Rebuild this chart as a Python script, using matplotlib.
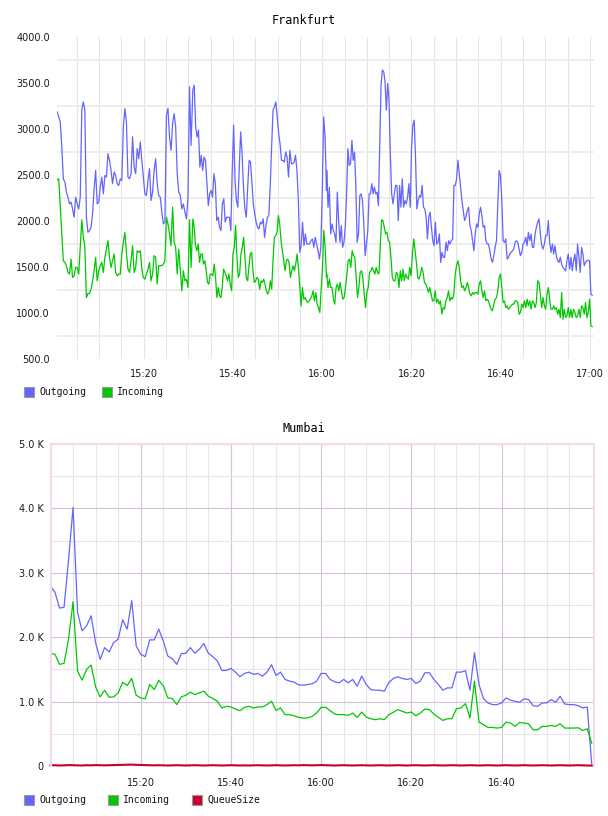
import numpy as np
import matplotlib
matplotlib.use("Agg")
import matplotlib.pyplot as plt
from matplotlib.patches import Rectangle
from matplotlib.ticker import FuncFormatter, MultipleLocator, FixedLocator

# ---------------- Frankfurt (values read off in four chunks of time) ----------------
# minutes after 15:00 where each chunk starts / ends
fra_bounds = [(0.6, 30.6), (31.0, 60.95), (61.0, 91.3), (91.6, 120.5)]

fra_out_1 = [3186, 3132, 3077, 2805, 2459, 2423, 2314, 2259, 2186, 2205, 2132, 2041, 2259, 2186, 2132,
             2259, 3205, 3295, 3205, 2041, 1877, 1896, 1932, 2077, 2350, 2550, 2186, 2205, 2368, 2477,
             2295, 2495, 2477, 2732, 2659, 2550, 2405, 2532, 2495, 2405, 2386, 2459, 2441, 3023, 3223,
             3077, 2477, 2459, 2514, 2914, 2586, 2514, 2786, 2677, 2859, 2659, 2477, 2295, 2277, 2441,
             2568, 2223, 2314, 2550, 2677, 2405, 2277, 2259, 2096, 1968, 1986, 3150, 3223, 2914, 2768,
             3059, 3168, 3023, 2514, 2314, 2277, 2132, 2186, 2096, 2023, 2259, 3459, 2823]
fra_out_2 = [3423, 3477, 3023, 2914, 2986, 2586, 2714, 2550, 2695, 2659, 2405, 2168, 2295, 2332, 2259,
             2514, 2405, 2005, 2041, 1932, 1896, 2186, 2241, 1987, 2041, 2041, 2041, 1896, 2550, 3041,
             2441, 2223, 2150, 2586, 2968, 2732, 2368, 2132, 2041, 2368, 2659, 2641, 2405, 2186, 2077,
             1987, 1932, 1914, 1987, 1968, 2023, 1823, 1950, 2041, 2059, 2368, 2805, 3205, 3241, 3295,
             3132, 2950, 2841, 2659, 2659, 2641, 2750, 2695, 2477, 2768, 2623, 2623, 2641, 2714, 2550,
             2223, 1659, 1732, 1987, 1732, 1859, 1750, 1750, 1750, 1786, 1805, 1714, 1823, 1750, 1677,
             1586, 1714, 2332, 3132, 2914, 2332]
fra_out_3 = [2550, 2150, 2368, 1859, 1968, 1896, 1859, 1768, 2314, 2005, 1768, 1950, 1714, 1768, 1932,
             2295, 2786, 2605, 2623, 2877, 2659, 2750, 2368, 1768, 1859, 2277, 2295, 2223, 1968, 1623,
             1750, 1896, 2295, 2295, 2405, 2295, 2368, 2295, 2314, 2168, 2841, 3477, 3641, 3623, 3514,
             3205, 3495, 3314, 2732, 2295, 2186, 2295, 2386, 2386, 2005, 2386, 2150, 2459, 2150, 2223,
             2186, 2259, 2405, 2150, 2805, 3041, 3095, 2695, 2132, 2223, 2277, 2259, 2386, 2150, 2132,
             2041, 1805, 2041, 2096, 1932, 1786, 1732, 1987, 1750, 1768, 1859, 1550, 1659, 1605, 1605,
             1768, 1677, 1786, 1750, 1786, 1805, 2386, 2386, 2459, 2659, 2514, 2368, 2223]
fra_out_4 = [2114, 2005, 2041, 2114, 2150, 1950, 1896, 1786, 1677, 1859, 1968, 1932, 2077, 2150, 2059,
             1932, 1950, 1786, 1750, 1750, 1677, 1586, 1550, 1623, 1714, 1786, 2186, 2550, 2495, 2223,
             1786, 1768, 1805, 1586, 1605, 1641, 1659, 1677, 1695, 1768, 1786, 1768, 1695, 1623, 1659,
             1750, 1768, 1823, 1732, 1877, 1786, 1859, 1714, 1714, 1859, 1932, 1987, 2023, 1859, 1732,
             1695, 1750, 1841, 1841, 2005, 1768, 1659, 1750, 1641, 1732, 1623, 1568, 1550, 1605, 1532,
             1495, 1477, 1459, 1568, 1641, 1477, 1605, 1459, 1568, 1641, 1459, 1750, 1605, 1441, 1714,
             1641, 1514, 1550, 1568, 1575, 1568, 1205, 1194]

fra_in_1 = [2448, 2459, 2150, 1859, 1568, 1550, 1514, 1441, 1423, 1586, 1386, 1405, 1495, 1495, 1423,
            1714, 2012, 1823, 1714, 1168, 1212, 1212, 1259, 1350, 1459, 1605, 1350, 1459, 1514, 1550,
            1441, 1605, 1695, 1786, 1605, 1495, 1568, 1641, 1441, 1405, 1423, 1423, 1641, 1768, 1877,
            1659, 1477, 1441, 1568, 1732, 1441, 1495, 1677, 1659, 1677, 1477, 1386, 1368, 1423, 1477,
            1550, 1350, 1423, 1623, 1605, 1314, 1514, 1514, 1514, 1532, 1568, 2041, 1968, 1859, 1732,
            2150, 1768, 1714, 1423, 1695, 1477, 1241, 1459, 1350, 1368, 1277, 2012, 1495]
fra_in_2 = [2023, 1932, 1732, 1677, 1750, 1550, 1641, 1641, 1532, 1568, 1459, 1332, 1314, 1423, 1423,
            1405, 1532, 1386, 1168, 1277, 1186, 1168, 1277, 1477, 1441, 1405, 1350, 1423, 1314, 1241,
            1641, 1714, 1950, 1605, 1386, 1423, 1641, 1714, 1823, 1605, 1386, 1350, 1514, 1641, 1659,
            1459, 1332, 1350, 1386, 1368, 1259, 1350, 1332, 1368, 1314, 1241, 1205, 1241, 1350, 1259,
            1568, 1823, 1841, 1877, 2059, 1968, 1786, 1677, 1568, 1459, 1568, 1586, 1550, 1386, 1459,
            1514, 1459, 1532, 1641, 1495, 1277, 1077, 1277, 1150, 1168, 1132, 1114, 1132, 1150, 1186,
            1241, 1132, 1223, 1096, 1059, 1005, 1241, 1495, 1896, 1714, 1386]
fra_in_3 = [1423, 1277, 1368, 1277, 1277, 1150, 1096, 1277, 1314, 1241, 1332, 1241, 1150, 1168, 1277,
            1405, 1568, 1586, 1495, 1677, 1623, 1605, 1386, 1168, 1277, 1441, 1459, 1386, 1205, 1059,
            1223, 1277, 1441, 1459, 1495, 1459, 1423, 1495, 1441, 1423, 1714, 2012, 2005, 1932, 1859,
            1877, 1786, 1768, 1605, 1386, 1350, 1350, 1441, 1423, 1277, 1459, 1350, 1477, 1350, 1423,
            1386, 1368, 1495, 1405, 1641, 1805, 1677, 1550, 1386, 1368, 1423, 1495, 1441, 1332, 1314,
            1277, 1223, 1277, 1205, 1132, 1132, 1241, 1114, 1150, 1096, 1132, 987, 1059, 1041, 1132,
            1168, 1241, 1132, 1168, 1150, 1205, 1423, 1514, 1568, 1495, 1350, 1277]
fra_in_4 = [1295, 1241, 1277, 1332, 1277, 1205, 1186, 1223, 1205, 1223, 1223, 1205, 1314, 1350, 1241,
            1168, 1241, 1132, 1150, 1132, 1077, 1041, 1023, 1096, 1150, 1168, 1241, 1386, 1423, 1277,
            1114, 1132, 1059, 1077, 1041, 1059, 1077, 1096, 1096, 1132, 1132, 1114, 987, 1005, 1096,
            1059, 1132, 1059, 1150, 1077, 1132, 1041, 1132, 1114, 1059, 1114, 1350, 1332, 1205, 1059,
            1168, 1077, 1041, 1205, 1277, 1150, 1041, 1041, 1077, 1041, 1059, 987, 1041, 950, 1223,
            932, 1041, 950, 969, 1059, 950, 1041, 950, 1041, 1005, 950, 969, 1041, 950, 1077,
            1059, 987, 1114, 950, 1005, 1150, 859, 852]

# ---------------- Mumbai (one value per minute, 15:00 .. 17:00) ----------------
mum_out = [2791, 2698, 2453, 2463, 3200, 4015, 2385, 2099, 2177, 2333, 1917, 1656, 1838, 1771, 1917,
           1969, 2271, 2125, 2568, 1865, 1734, 1698, 1958, 1958, 2125, 1943, 1708, 1667, 1578, 1745,
           1750, 1838, 1750, 1812, 1901, 1750, 1698, 1630, 1484, 1484, 1516, 1458, 1385, 1437, 1458,
           1422, 1437, 1396, 1458, 1573, 1406, 1458, 1344, 1318, 1302, 1260,
           1255, 1265, 1276, 1318, 1437, 1437, 1344, 1307, 1292, 1344, 1292, 1344, 1240, 1396, 1266,
           1187, 1177, 1177, 1161, 1292, 1359, 1385, 1359, 1344, 1359, 1281, 1318, 1448, 1448, 1344,
           1266, 1177, 1213, 1213, 1458, 1458, 1479, 1177, 1760, 1266, 1047, 979, 953, 953, 979,
           1057, 1021, 1005, 990, 1042, 1031, 937, 927, 979, 979, 1031, 990, 1083, 963, 953,
           953, 937, 901, 917, 26]
mum_in = [1750, 1734, 1578, 1594, 1969, 2552, 1474, 1333, 1500, 1568, 1229, 1073, 1177, 1068, 1073,
          1135, 1302, 1250, 1359, 1099, 1057, 1042, 1266, 1187, 1328, 1250, 1057, 1047, 953, 1073,
          1099, 1146, 1109, 1135, 1161, 1083, 1047, 1005, 901, 927, 917, 885, 859, 911, 927,
          901, 917, 917, 953, 1005, 864, 901, 797, 797, 781, 755,
          745, 747, 771, 823, 911, 911, 859, 807, 797, 797, 786, 823, 755, 838, 760,
          734, 719, 734, 719, 797, 833, 875, 849, 823, 838, 781, 823, 885, 875, 807,
          755, 708, 734, 734, 891, 901, 969, 745, 1318, 682, 641, 599, 599, 589, 599,
          682, 667, 615, 677, 667, 656, 562, 562, 615, 615, 630, 615, 656, 589, 589,
          589, 594, 552, 578, 354]
mum_queue = [10, 12, 8, 10, 14, 12, 10, 8, 12, 10, 14, 12, 10, 12, 14, 16, 18, 20, 22, 18,
             16, 14, 12, 10, 12, 10, 8, 10, 12, 10, 8, 10, 12, 10, 8, 10, 12, 10, 8, 10,
             12, 10, 8, 10, 8, 10, 12, 10, 8, 10, 12, 10, 8, 10, 12, 10, 14, 12, 10, 12,
             14, 12, 10, 8, 10, 12, 10, 8, 10, 12, 10, 8, 10, 12, 10, 8, 10, 12, 10, 8,
             10, 12, 10, 8, 10, 12, 10, 8, 10, 12, 10, 8, 10, 12, 10, 8, 10, 12, 10, 8,
             10, 12, 10, 8, 10, 12, 10, 8, 10, 12, 10, 8, 10, 12, 10, 8, 10, 12, 10, 8, 6]

OUT_C, IN_C, Q_C = '#6464ff', '#00c800', '#c80032'
W, H = 608, 816
fig = plt.figure(figsize=(W / 100, H / 100), dpi=100)


def px_axes(left, top, right, bottom):
    return fig.add_axes([left / W, 1 - bottom / H, (right - left) / W, (bottom - top) / H])


def hhmm(m, pos=None):
    m = int(round(m))
    return f"{15 + m // 60}:{m % 60:02d}"


def chunked(chunks):
    t = np.concatenate([np.linspace(a, b, len(v)) for (a, b), v in zip(fra_bounds, chunks)])
    return t, np.concatenate([np.asarray(v, float) for v in chunks])


def legend(items, y, xs):
    for (label, color), x in zip(items, xs):
        fig.patches.append(Rectangle((x / W, 1 - (y + 5) / H), 10 / W, 10 / H,
                                     transform=fig.transFigure, facecolor=color,
                                     edgecolor='#9a9a9a', lw=0.8))
        fig.text((x + 15) / W, 1 - y / H, label, ha='left', va='center',
                 family='DejaVu Sans Mono', fontsize=7, color='#111111')


def style_ticks(ax, pad_x):
    ax.tick_params(which='both', length=0, labelsize=7, colors='#1a1a1a')
    ax.tick_params(axis='x', pad=pad_x)
    ax.tick_params(axis='y', pad=5)
    ax.set_axisbelow(True)


# ---- top panel ----
ax1 = px_axes(57, 37, 594, 359)
t_out, v_out = chunked([fra_out_1, fra_out_2, fra_out_3, fra_out_4])
t_in, v_in = chunked([fra_in_1, fra_in_2, fra_in_3, fra_in_4])
ax1.plot(t_out, v_out, color=OUT_C, lw=0.9)
ax1.plot(t_in, v_in, color=IN_C, lw=0.9)
ax1.set_xlim(0.56, 120.9)
ax1.set_ylim(500, 4000)
ax1.xaxis.set_major_locator(FixedLocator([20, 40, 60, 80, 100, 120]))
ax1.xaxis.set_minor_locator(MultipleLocator(5))
ax1.xaxis.set_major_formatter(FuncFormatter(hhmm))
ax1.yaxis.set_major_locator(MultipleLocator(500))
ax1.yaxis.set_minor_locator(FixedLocator(np.arange(750, 4000, 500)))
ax1.yaxis.set_major_formatter(FuncFormatter(lambda v, p: f"{v:.1f}"))
ax1.grid(which='both', axis='x', color='#e4e4e4', lw=0.8)
ax1.grid(which='minor', axis='y', color='#eeeeee', lw=1.4)
for s in ax1.spines.values():
    s.set_visible(False)
style_ticks(ax1, 7)
fig.text(304 / W, 1 - 20 / H, 'Frankfurt', ha='center', va='center',
         family='DejaVu Sans Mono', fontsize=8.5)
legend([('Outgoing', OUT_C), ('Incoming', IN_C)], 392, [24, 102])

# ---- bottom panel ----
ax2 = px_axes(50.5, 444, 594, 766)
ax2.plot(np.arange(len(mum_out)), mum_out, color=OUT_C, lw=0.9)
ax2.plot(np.arange(len(mum_in)), mum_in, color=IN_C, lw=0.9)
ax2.plot(np.arange(len(mum_queue)), mum_queue, color=Q_C, lw=1.5, clip_on=False)
ax2.set_xlim(0, 120.5)
ax2.set_ylim(0, 5000)
ax2.xaxis.set_major_locator(FixedLocator([20, 40, 60, 80, 100]))
ax2.xaxis.set_minor_locator(FixedLocator([m for m in range(5, 120, 5) if m % 20]))
ax2.xaxis.set_major_formatter(FuncFormatter(hhmm))
ax2.yaxis.set_major_locator(MultipleLocator(1000))
ax2.yaxis.set_minor_locator(FixedLocator(np.arange(500, 5000, 1000)))
ax2.yaxis.set_major_formatter(FuncFormatter(lambda v, p: "0" if v == 0 else f"{v / 1000:.1f} K"))
ax2.grid(which='major', color='#d9bfd9', lw=0.8)
ax2.grid(which='minor', color='#e6e6e6', lw=0.8)
for side, s in ax2.spines.items():
    s.set_color('#efdcef')
    s.set_linewidth(1.5)
ax2.spines['bottom'].set_visible(False)
style_ticks(ax2, 9)
fig.text(304 / W, 1 - 429 / H, 'Mumbai', ha='center', va='center',
         family='DejaVu Sans Mono', fontsize=8.5)
legend([('Outgoing', OUT_C), ('Incoming', IN_C), ('QueueSize', Q_C)], 800, [24, 108, 192])

fig.savefig('out.png', dpi=100)
